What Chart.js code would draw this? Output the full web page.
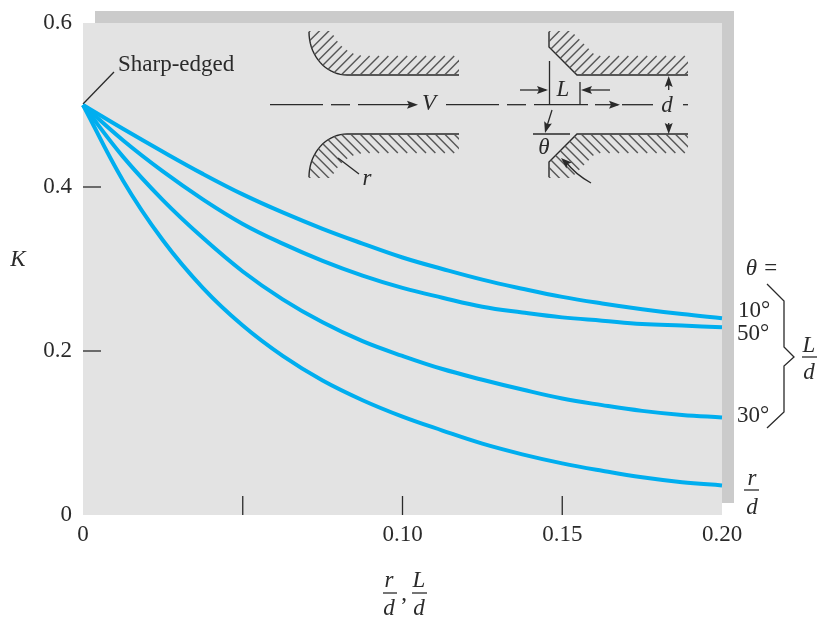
<!DOCTYPE html>
<html>
<head>
<meta charset="utf-8">
<script src="https://cdn.jsdelivr.net/npm/chart.js@4"></script>
<style>
  html, body { margin: 0; padding: 0; background: #fff; }
  canvas { display: block; }
</style>
</head>
<body>
<canvas id="chartCanvas" width="819" height="618"></canvas>
<script>
const xValues = [0, 0.0125, 0.025, 0.0375, 0.05, 0.0625, 0.075, 0.0875, 0.10, 0.1125, 0.125, 0.1375, 0.15, 0.1625, 0.175, 0.1875, 0.20];
const theta10 = [0.5, 0.471, 0.443, 0.416, 0.391, 0.369, 0.349, 0.331, 0.314, 0.3, 0.287, 0.276, 0.266, 0.258, 0.251, 0.245, 0.24];
const theta50 = [0.5, 0.457, 0.419, 0.385, 0.355, 0.331, 0.31, 0.292, 0.277, 0.265, 0.254, 0.247, 0.241, 0.237, 0.233, 0.231, 0.229];
const theta30 = [0.5, 0.437, 0.384, 0.338, 0.297, 0.263, 0.235, 0.212, 0.194, 0.178, 0.165, 0.153, 0.142, 0.134, 0.127, 0.122, 0.119];
const roundedEntrance = [0.5, 0.408, 0.335, 0.277, 0.231, 0.194, 0.164, 0.14, 0.12, 0.103, 0.087, 0.074, 0.063, 0.054, 0.046, 0.04, 0.036];

const xTickValues = [0, 0.05, 0.10, 0.15, 0.20];
const xTickLabels = ['0', '', '0.10', '0.15', '0.20'];
const yTickValues = [0, 0.2, 0.4, 0.6];
const yTickLabels = ['0', '0.2', '0.4', '0.6'];

const seriesList = [theta10, theta50, theta30, roundedEntrance];
const seriesNames = ['θ = 10°', 'θ = 50°', 'θ = 30°', 'r/d'];

const INK = '#2a2a2a';
const SERIF = '"Liberation Serif", serif';

function line(ctx, x1, y1, x2, y2) {
  ctx.beginPath();
  ctx.moveTo(x1, y1);
  ctx.lineTo(x2, y2);
  ctx.stroke();
}

function arrowHead(ctx, x, y, angle) {
  ctx.save();
  ctx.translate(x, y);
  ctx.rotate(angle);
  ctx.beginPath();
  ctx.moveTo(0, 0);
  ctx.lineTo(-11, -4);
  ctx.lineTo(-9, 0);
  ctx.lineTo(-11, 4);
  ctx.closePath();
  ctx.fill();
  ctx.restore();
}

function label(ctx, text, x, y, size, italic, align) {
  ctx.font = (italic ? 'italic ' : '') + size + 'px ' + SERIF;
  ctx.textAlign = align || 'center';
  ctx.textBaseline = 'middle';
  ctx.fillText(text, x, y + 1.5);
}

// wall outline plus its "/" hatching, the lower wall is the same thing mirrored
function duct(ctx, outline, xEnd) {
  ctx.lineWidth = 1.4;
  ctx.beginPath();
  outline.forEach((p, i) => i ? ctx.lineTo(p[0], p[1]) : ctx.moveTo(p[0], p[1]));
  ctx.stroke();

  ctx.save();
  ctx.beginPath();
  ctx.rect(outline[0][0] - 2, 31, xEnd - outline[0][0] + 2, 44);
  ctx.clip();
  ctx.lineWidth = 1.4;
  ctx.strokeStyle = '#555';
  const first = outline[0][0] + outline[0][1];
  const last = outline[outline.length - 1][0] + outline[outline.length - 1][1];
  for (let c = first; c <= last; c += 9.4) {
    for (let i = 1; i < outline.length; i++) {
      const a = outline[i - 1], b = outline[i];
      const ca = a[0] + a[1], cb = b[0] + b[1];
      if ((ca <= c && c < cb) || (cb < c && c <= ca)) {
        const t = (c - ca) / (cb - ca);
        const x = a[0] + (b[0] - a[0]) * t;
        const y = a[1] + (b[1] - a[1]) * t;
        line(ctx, x, y, x + 19, y - 19);
        break;
      }
    }
  }
  ctx.restore();
}

const roundWall = [];
for (let a = 0; a <= 90; a += 5) {
  const rad = a * Math.PI / 180;
  roundWall.push([347 - 38 * Math.cos(rad), 32 + 43 * Math.sin(rad)]);
}
roundWall.push([459, 75]);
const chamferWall = [[549, 32], [549, 47], [577, 75], [688, 75]];

function drawDiagram(ctx) {
  ctx.save();
  ctx.strokeStyle = INK;
  ctx.fillStyle = INK;

  [1, -1].forEach(dir => {
    ctx.save();
    if (dir < 0) {
      ctx.translate(0, 209);
      ctx.scale(1, -1);
    }
    duct(ctx, roundWall, 459);
    duct(ctx, chamferWall, 688);
    ctx.restore();
  });

  // center line
  ctx.lineWidth = 1.3;
  [[270, 323], [331, 350], [358, 414], [446, 499], [507, 526], [534, 588], [595, 618], [622, 653], [683, 688]]
    .forEach(s => line(ctx, s[0], 104.7, s[1], 104.7));
  arrowHead(ctx, 418, 104.7, 0);
  arrowHead(ctx, 620, 104.7, 0);

  // L dimension
  line(ctx, 549.5, 61, 549.5, 105);
  line(ctx, 580, 82, 580, 105);
  line(ctx, 520, 90, 546, 90);
  arrowHead(ctx, 548, 90, 0);
  line(ctx, 610, 90, 584, 90);
  arrowHead(ctx, 581, 90, Math.PI);

  // d dimension
  line(ctx, 668.7, 90, 668.7, 80);
  arrowHead(ctx, 668.7, 76, -Math.PI / 2);
  line(ctx, 668.7, 123, 668.7, 130);
  arrowHead(ctx, 668.7, 134, Math.PI / 2);

  // theta marks
  line(ctx, 533, 134, 570, 134);
  line(ctx, 552, 110, 547, 126);
  arrowHead(ctx, 545, 133, 1.85);
  ctx.beginPath();
  ctx.moveTo(591, 183);
  ctx.quadraticCurveTo(575, 174, 566, 162);
  ctx.stroke();
  arrowHead(ctx, 561, 158, -2.4);

  // r leader
  line(ctx, 338, 158, 359, 174);

  label(ctx, 'V', 429, 102, 23, true);
  label(ctx, 'L', 563, 88, 23, true);
  label(ctx, 'd', 667, 104, 23, true);
  label(ctx, 'θ', 544, 146, 23, true);
  label(ctx, 'r', 367, 177, 23, true);
  ctx.restore();
}

function drawOuterLabels(ctx) {
  ctx.save();
  ctx.strokeStyle = INK;
  ctx.fillStyle = INK;
  ctx.lineWidth = 1.3;

  line(ctx, 83, 104, 114, 72);
  label(ctx, 'Sharp-edged', 118, 63, 23, false, 'left');
  label(ctx, 'K', 18, 258, 23, true);

  label(ctx, 'θ =', 762, 267, 23, true);
  label(ctx, '10°', 754, 309, 23, false);
  label(ctx, '50°', 753, 332, 23, false);
  label(ctx, '30°', 753, 414, 23, false);

  ctx.beginPath();
  [[767, 284], [784, 301], [784, 347], [794, 357], [784, 366], [784, 412], [767, 428]]
    .forEach((p, i) => i ? ctx.lineTo(p[0], p[1]) : ctx.moveTo(p[0], p[1]));
  ctx.stroke();

  // fractions
  label(ctx, 'L', 809, 344, 23, true);
  line(ctx, 802, 357, 817, 357);
  label(ctx, 'd', 809, 371, 23, true);

  label(ctx, 'r', 752, 477, 23, true);
  line(ctx, 744, 490, 759, 490);
  label(ctx, 'd', 752, 506, 23, true);

  label(ctx, 'r', 389, 579, 23, true);
  line(ctx, 383, 593, 397, 593);
  label(ctx, 'd', 389, 607, 23, true);
  label(ctx, ',', 404, 592, 23, false);
  label(ctx, 'L', 419, 579, 23, true);
  line(ctx, 412, 593, 427, 593);
  label(ctx, 'd', 419, 607, 23, true);
  ctx.restore();
}

const panelPlugin = {
  id: 'panel',
  beforeDraw(chart) {
    const ctx = chart.ctx, a = chart.chartArea;
    ctx.save();
    ctx.fillStyle = '#cbcbcb';
    ctx.fillRect(a.left + 12, a.top - 12, a.width, a.height);
    ctx.fillStyle = '#e3e3e3';
    ctx.fillRect(a.left, a.top, a.width, a.height);
    ctx.restore();
  },
  beforeDatasetsDraw(chart) {
    const ctx = chart.ctx, a = chart.chartArea;
    ctx.save();
    ctx.strokeStyle = INK;
    ctx.lineWidth = 1.3;
    // inward tick marks
    xTickValues.slice(1, 4).forEach(v => {
      const x = chart.scales.x.getPixelForValue(v);
      line(ctx, x, a.bottom, x, a.bottom - 19);
    });
    yTickValues.slice(1, 3).forEach(v => {
      const y = chart.scales.y.getPixelForValue(v);
      line(ctx, a.left, y, a.left + 18, y);
    });
    ctx.restore();
    drawDiagram(ctx);
    drawOuterLabels(ctx);
  }
};

new Chart(document.getElementById('chartCanvas').getContext('2d'), {
  type: 'line',
  data: {
    datasets: seriesList.map((values, i) => ({
      label: seriesNames[i],
      data: values.map((v, j) => ({ x: xValues[j], y: v })),
      borderColor: '#00aeef',
      borderWidth: 4,
      pointRadius: 0,
      tension: 0.4,
      clip: false
    }))
  },
  options: {
    responsive: false,
    animation: false,
    events: [],
    layout: { padding: { top: 23, right: 97, left: 0, bottom: 0 } },
    plugins: { legend: { display: false }, tooltip: { enabled: false } },
    scales: {
      x: {
        type: 'linear',
        min: 0,
        max: 0.20,
        grid: { display: false, drawTicks: false },
        border: { display: false },
        afterBuildTicks: scale => { scale.ticks = xTickValues.map(v => ({ value: v })); },
        afterFit: scale => { scale.height = 103; scale.paddingLeft = 0; scale.paddingRight = 0; },
        ticks: {
          autoSkip: false,
          maxRotation: 0,
          padding: 6,
          color: INK,
          font: { family: SERIF, size: 23 },
          callback: (value, i) => xTickLabels[i]
        }
      },
      y: {
        min: 0,
        max: 0.6,
        grid: { display: false, drawTicks: false },
        border: { display: false },
        afterBuildTicks: scale => { scale.ticks = yTickValues.map(v => ({ value: v })); },
        afterFit: scale => { scale.width = 83; scale.paddingTop = 0; scale.paddingBottom = 0; },
        ticks: {
          autoSkip: false,
          padding: 11,
          color: INK,
          font: { family: SERIF, size: 23 },
          callback: (value, i) => yTickLabels[i]
        }
      }
    }
  },
  plugins: [panelPlugin]
});
</script>
</body>
</html>
